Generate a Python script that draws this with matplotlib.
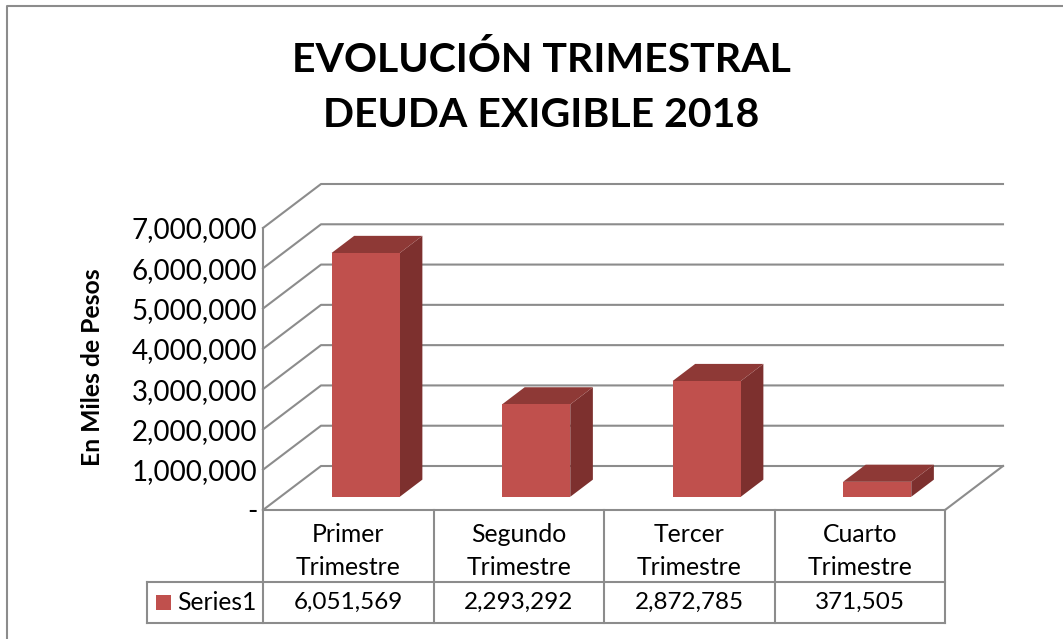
import matplotlib
matplotlib.use('Agg')
import matplotlib.pyplot as plt
from matplotlib.patches import Polygon, Rectangle

plt.rcParams['font.family'] = ['Lato', 'DejaVu Sans']

# Datos
categorias = ['Primer\nTrimestre', 'Segundo\nTrimestre', 'Tercer\nTrimestre', 'Cuarto\nTrimestre']
valores = [6051569, 2293292, 2872785, 371505]
etiquetas_valor = ['6,051,569', '2,293,292', '2,872,785', '371,505']
ticks_y = [0, 1000000, 2000000, 3000000, 4000000, 5000000, 6000000, 7000000]
etiquetas_y = ['-', '1,000,000', '2,000,000', '3,000,000', '4,000,000', '5,000,000', '6,000,000', '7,000,000']

W, H = 1063, 639
GRIS = '#8c8c8c'

fig = plt.figure(figsize=(W / 100, H / 100), dpi=100)

# el plano frontal del grafico, lo demas se proyecta desde aqui
ax = fig.add_axes([263 / W, 1 - 510 / H, 682 / W, 282 / H])
ax.set_xlim(0, 4)
ax.set_ylim(0, 7000000)
for s in ax.spines.values():
    s.set_visible(False)
ax.patch.set_alpha(0)

# profundidad: 1 = pared del fondo
DX = 58 / 170.5
DY = 44 / 282 * 7000000


def proy(x, y, d):
    return x + DX * d, y + DY * d


# rejilla
for v in ticks_y:
    p0 = proy(0, v, 0)
    p1 = proy(0, v, 1)
    p2 = proy(4, v, 1)
    ax.plot([p0[0], p1[0], p2[0]], [p0[1], p1[1], p2[1]], color=GRIS, lw=1.5, clip_on=False, zorder=1)
p0 = proy(4, 0, 0)
p1 = proy(4, 0, 1)
ax.plot([p0[0], p1[0]], [p0[1], p1[1]], color=GRIS, lw=1.5, clip_on=False, zorder=1)
ax.plot([0, 0], [0, 7000000], color=GRIS, lw=1.5, clip_on=False, zorder=1)

# barras 3D
ancho = 0.4
d1, d2 = 0.3, 0.69
for i, v in enumerate(valores):
    x0 = i + 0.5 - ancho / 2
    x1 = x0 + ancho
    frente = [proy(x0, 0, d1), proy(x1, 0, d1), proy(x1, v, d1), proy(x0, v, d1)]
    lado = [proy(x1, 0, d1), proy(x1, 0, d2), proy(x1, v, d2), proy(x1, v, d1)]
    tapa = [proy(x0, v, d1), proy(x1, v, d1), proy(x1, v, d2), proy(x0, v, d2)]
    ax.add_patch(Polygon(lado, color='#7d302e', lw=0, clip_on=False, zorder=3))
    ax.add_patch(Polygon(tapa, color='#8e3936', lw=0, clip_on=False, zorder=3))
    ax.add_patch(Polygon(frente, color='#c0504d', lw=0, clip_on=False, zorder=4))

# ejes
ax.set_yticks(ticks_y)
ax.set_yticklabels(etiquetas_y, fontsize=20, color='black')
ax.tick_params(axis='y', length=0, pad=4)
ax.set_xticks([])

# tabla de datos, en coordenadas x de datos / y de ejes
tr = ax.get_xaxis_transform()
fila1 = -72 / 282
fila2 = -113 / 282
izq = -116 / 170.5
for x in range(5):
    ax.plot([x, x], [0, fila2], transform=tr, color=GRIS, lw=1.5, clip_on=False)
ax.plot([0, 4], [0, 0], transform=tr, color=GRIS, lw=1.5, clip_on=False)
ax.plot([izq, 4], [fila1, fila1], transform=tr, color=GRIS, lw=1.5, clip_on=False)
ax.plot([izq, 4], [fila2, fila2], transform=tr, color=GRIS, lw=1.5, clip_on=False)
ax.plot([izq, izq], [fila1, fila2], transform=tr, color=GRIS, lw=1.5, clip_on=False)

for i, c in enumerate(categorias):
    ax.text(i + 0.5, fila1 / 2 - 0.018, c, transform=tr, ha='center', va='center', fontsize=17.8, linespacing=1.5)
    ax.text(i + 0.5, (fila1 + fila2) / 2, etiquetas_valor[i], transform=tr, ha='center', va='center', fontsize=17.5)

ax.add_patch(Rectangle((-107 / 170.5, -100 / 282), 15 / 170.5, 15 / 282, transform=tr, color='#c0504d', lw=0, clip_on=False))
ax.text(-85.5 / 170.5, (fila1 + fila2) / 2, 'Series1', transform=tr, ha='left', va='center', fontsize=17.7)

# textos
fig.text(541 / W, 1 - 87.5 / H, 'EVOLUCIÓN TRIMESTRAL\nDEUDA EXIGIBLE 2018', ha='center', va='center',
         fontsize=29.5, fontweight='bold', linespacing=1.62)
fig.text(93 / W, 1 - 367 / H, 'En Miles de Pesos', rotation=90, ha='center', va='center',
         fontsize=17.8, fontweight='bold')

# marco del grafico (solo arriba e izquierda)
fig.add_artist(plt.Line2D([7 / W, 7 / W, 1], [0, 1 - 5.5 / H, 1 - 5.5 / H], color=GRIS, lw=1.5))

fig.savefig('out.png', dpi=100)
